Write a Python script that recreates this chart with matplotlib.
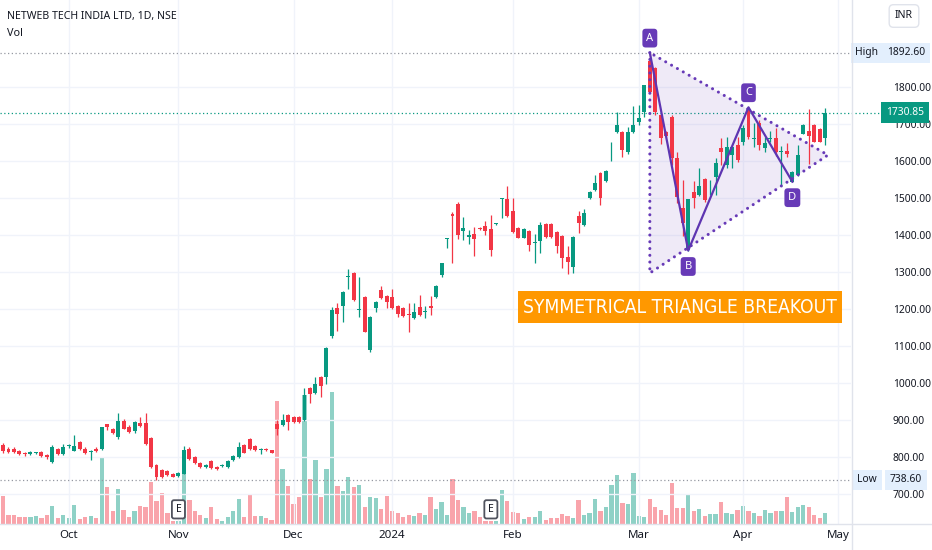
import matplotlib
matplotlib.use('Agg')
import matplotlib.pyplot as plt
import matplotlib.transforms as mtransforms
from matplotlib import font_manager as fm
from matplotlib.lines import Line2D
from matplotlib.patches import Rectangle

plt.rcParams['font.family'] = ['Noto Sans', 'DejaVu Sans']

# daily candles (mid sep 2023 -> 22 apr 2024)
opens = [832, 823, 822, 816, 812, 809, 810, 814, 805, 787,
         821, 808, 829, 817, 840, 823, 814, 823, 822, 888,
         875, 853, 898, 882, 869, 891, 891, 852, 778, 765,
         763, 754, 749, 755, 822, 799, 783, 774, 790, 774,
         776, 772, 793, 800, 833, 848, 830, 820, 823, 818,
         890, 886, 913, 907, 909, 900, 986, 974, 1015, 1017,
         1127, 1204, 1208, 1287, 1298, 1198, 1232, 1089, 1202, 1250,
         1235, 1232, 1208, 1204, 1185, 1175, 1206, 1191, 1208, 1233,
         1292, 1389, 1458, 1484, 1412, 1395, 1404, 1420, 1424, 1415,
         1429, 1498, 1497, 1465, 1420, 1393, 1411, 1379, 1384, 1430,
         1430, 1409, 1397, 1340, 1313, 1452, 1427, 1500, 1521, 1567,
         1545, 1650, 1679, 1679, 1624, 1679, 1706, 1732, 1870, 1850,
         1724, 1677, 1720, 1607, 1472, 1360, 1517, 1508, 1551, 1515,
         1558, 1634, 1589, 1616, 1643, 1652, 1742, 1660, 1702, 1634,
         1660, 1661, 1624, 1627, 1544, 1562, 1674, 1681, 1697, 1686,
         1661]
highs = [839, 827, 826, 818, 814, 815, 814, 816, 807, 832,
         824, 834, 836, 859, 842, 826, 818, 826, 882, 890,
         878, 918, 902, 886, 897, 909, 918, 855, 781, 768,
         766, 757, 760, 830, 826, 802, 786, 782, 792, 776,
         780, 792, 805, 840, 836, 851, 832, 825, 825, 820,
         900, 916, 916, 910, 912, 986, 988, 1017, 1018, 1097,
         1206, 1217, 1248, 1307, 1300, 1287, 1234, 1181, 1222, 1262,
         1237, 1253, 1210, 1206, 1215, 1215, 1238, 1208, 1235, 1264,
         1325, 1392, 1462, 1488, 1449, 1413, 1422, 1422, 1438, 1454,
         1432, 1501, 1533, 1500, 1422, 1418, 1413, 1404, 1436, 1432,
         1432, 1411, 1400, 1369, 1397, 1466, 1470, 1518, 1562, 1570,
         1575, 1652, 1731, 1682, 1691, 1749, 1750, 1806, 1892.6, 1853,
         1727, 1680, 1723, 1625, 1548, 1498, 1546, 1582, 1554, 1548,
         1609, 1661, 1665, 1640, 1665, 1697, 1745, 1702, 1711, 1665,
         1681, 1688, 1641, 1648, 1573, 1643, 1699, 1740, 1700, 1688,
         1742]
lows = [810, 810, 812, 805, 803, 806, 807, 801, 796, 785,
        806, 806, 824, 815, 818, 808, 792, 814, 820, 874,
        862, 850, 875, 864, 866, 882, 832, 770, 738.6, 744,
        749, 745, 747, 753, 792, 782, 770, 770, 768, 765,
        774, 770, 790, 797, 810, 820, 816, 808, 817, 810,
        860, 884, 874, 893, 893, 898, 947, 971, 963, 997,
        1122, 1141, 1166, 1253, 1222, 1179, 1137, 1085, 1193, 1227,
        1202, 1200, 1179, 1178, 1139, 1173, 1182, 1175, 1184, 1230,
        1287, 1364, 1325, 1389, 1386, 1376, 1343, 1413, 1400, 1343,
        1428, 1445, 1448, 1405, 1391, 1391, 1358, 1325, 1352, 1391,
        1392, 1352, 1310, 1295, 1298, 1406, 1424, 1497, 1518, 1481,
        1543, 1600, 1676, 1612, 1620, 1676, 1697, 1720, 1785, 1724,
        1645, 1665, 1589, 1486, 1396, 1358, 1472, 1505, 1488, 1508,
        1508, 1589, 1580, 1580, 1598, 1643, 1660, 1639, 1630, 1625,
        1652, 1614, 1533, 1611, 1544, 1560, 1672, 1592, 1650, 1650,
        1643]
closes = [817, 814, 814, 808, 807, 813, 812, 803, 799, 828,
          808, 826, 831, 831, 821, 810, 816, 816, 880, 880,
          864, 898, 877, 867, 895, 885, 834, 774, 747, 747,
          751, 747, 758, 819, 795, 785, 772, 778, 770, 768,
          778, 789, 802, 828, 812, 823, 819, 823, 819, 812,
          877, 900, 895, 895, 895, 968, 970, 997, 993, 1094,
          1197, 1186, 1245, 1289, 1224, 1199, 1139, 1179, 1220, 1229,
          1220, 1202, 1186, 1181, 1184, 1193, 1184, 1192, 1202, 1262,
          1323, 1391, 1452, 1400, 1420, 1400, 1389, 1415, 1412, 1359,
          1430, 1500, 1450, 1409, 1393, 1415, 1373, 1382, 1427, 1394,
          1394, 1370, 1337, 1326, 1394, 1432, 1459, 1515, 1540, 1499,
          1573, 1652, 1697, 1630, 1679, 1697, 1715, 1804, 1787, 1732,
          1661, 1668, 1607, 1504, 1432, 1496, 1499, 1533, 1495, 1517,
          1594, 1625, 1639, 1638, 1603, 1690, 1665, 1662, 1643, 1648,
          1662, 1625, 1626, 1618, 1571, 1616, 1697, 1668, 1652, 1652,
          1730.85]
# volume (relative units, as bar heights on the chart)
volumes = [28, 9, 9, 7, 7, 7, 8, 6, 9, 18,
           6, 9, 6, 19, 5, 7, 8, 6, 66, 37,
           13, 35, 14, 7, 13, 18, 17, 42, 23, 31,
           11, 3, 3, 72, 24, 13, 9, 6, 17, 5,
           3, 7, 13, 25, 7, 30, 8, 8, 6, 4,
           123, 55, 38, 20, 27, 129, 45, 64, 27, 55,
           132, 38, 33, 47, 37, 39, 17, 27, 26, 15,
           28, 13, 11, 7, 9, 8, 11, 9, 27, 15,
           22, 9, 45, 24, 17, 11, 13, 7, 3, 3,
           3, 34, 23, 12, 11, 5, 7, 7, 13, 4,
           6, 6, 10, 8, 6, 24, 9, 11, 25, 13,
           17, 39, 49, 21, 20, 51, 8, 7, 25, 17,
           14, 9, 41, 16, 16, 29, 13, 15, 8, 10,
           10, 22, 11, 10, 14, 18, 13, 11, 8, 14,
           11, 13, 13, 27, 12, 17, 19, 17, 9, 6,
           11]

month_labels = ['Oct', 'Nov', 'Dec', '2024', 'Feb', 'Mar', 'Apr', 'May']
month_pos = [12, 32, 53, 71, 93, 116, 135, 152.4]
price_ticks = [700, 800, 900, 1000, 1100, 1200, 1300, 1400, 1500, 1600, 1700, 1800]

# pattern drawing (candle index)
abcd_idx = [118, 125, 136, 144]
abcd_lbl = ['A', 'B', 'C', 'D']
tri_idx = [118, 118, 150.5]
tri_price = [1892.6, 1297, 1616]
earnings_idx = [32, 89]
banner = 'SYMMETRICAL TRIANGLE BREAKOUT'

up = '#089981'
down = '#f23645'
purple = '#673ab7'

W, H = 932, 550
fig = plt.figure(figsize=(W / 100, H / 100), dpi=100)
rect = [0, (H - 524) / H, 851 / W, 524 / H]
axv = fig.add_axes(rect)
ax = fig.add_axes(rect, sharex=axv)
ax.set_facecolor('none')

n = len(closes)
xs = list(range(n))
cols = [up if c >= o else down for o, c in zip(opens, closes)]

# volume behind
axv.bar(xs, volumes, width=0.78, color=cols, alpha=0.45, linewidth=0)
axv.set_ylim(0, 524)
axv.axis('off')

# candles
ax.vlines(xs, lows, highs, colors=cols, linewidth=0.9, zorder=3)
bodies = [max(abs(c - o), 2.5) for o, c in zip(opens, closes)]
ax.bar(xs, bodies, bottom=[min(o, c) for o, c in zip(opens, closes)],
       width=0.72, color=cols, linewidth=0, zorder=4)

ax.set_xlim(-0.55, 154.7)
ax.set_ylim(619, 2035)
ax.set_yticks(price_ticks, ['%.2f' % p for p in price_ticks])
ax.set_xticks(month_pos, month_labels)
ax.get_xticklabels()[3].set_fontweight('bold')
ax.grid(True, color='#f0f3fa', linewidth=1)
ax.set_axisbelow(True)
for s in ax.spines.values():
    s.set_visible(False)
ax.tick_params(axis='y', left=False, right=False, labelleft=False, labelright=True,
               pad=26.5, labelsize=7.4, labelcolor='#131722')
ax.tick_params(axis='x', length=0, pad=4.5, labelsize=8.3, labelcolor='#131722')

# frame lines
fig.add_artist(Line2D([0, 1], [(H - 524) / H] * 2, color='#e0e3eb', lw=1))
fig.add_artist(Line2D([852 / W] * 2, [0, 1], color='#e0e3eb', lw=1))

# high / low / last lines
hi = max(highs)
lo = min(lows)
last = closes[-1]
ax.axhline(hi, color='#9598a1', lw=0.9, ls=(0, (1, 2)))
ax.axhline(lo, color='#9598a1', lw=0.9, ls=(0, (1, 2)))
bl = mtransforms.blended_transform_factory(ax.transAxes, ax.transData)
ax.plot([0, 880 / 851], [last, last], transform=bl, color=up, lw=0.9,
        ls=(0, (1, 2)), clip_on=False)

ft = mtransforms.blended_transform_factory(fig.transFigure, ax.transData)
boxkw = dict(boxstyle='square,pad=0.45', fc='#e3effd', ec='none')
ax.text(867 / W, hi, 'High', transform=ft, ha='center', va='center', fontsize=7.4,
        color='#131722', bbox=boxkw, clip_on=False)
ax.text(906 / W, hi, '%.2f' % hi, transform=ft, ha='center', va='center', fontsize=7.4,
        color='#131722', bbox=boxkw, clip_on=False)
ax.text(867 / W, lo, 'Low', transform=ft, ha='center', va='center', fontsize=7.4,
        color='#131722', bbox=boxkw, clip_on=False)
ax.text(906 / W, lo, '%.2f' % lo, transform=ft, ha='center', va='center', fontsize=7.4,
        color='#131722', bbox=boxkw, clip_on=False)
ax.text(905 / W, last, '%.2f' % last, transform=ft, ha='center', va='center', fontsize=7.4,
        color='white', clip_on=False, zorder=10,
        bbox=dict(boxstyle='square,pad=0.5', fc=up, ec='none'))

fig.text(904 / W, 1 - 16 / H, 'INR', ha='center', va='center', fontsize=7.6, color='#131722',
         bbox=dict(boxstyle='round,pad=0.55,rounding_size=0.4', fc='white', ec='#e0e3eb'))

fig.text(7 / W, 1 - 17 / H, 'NETWEB TECH INDIA LTD, 1D, NSE', ha='left', va='center',
         fontsize=7.6, fontweight='bold', color='#131722')
fig.text(7 / W, 1 - 33 / H, 'Vol', ha='left', va='center', fontsize=7.8, color='#131722')

# triangle + ABCD
ax.fill(tri_idx, tri_price, color=purple, alpha=0.1, linewidth=0, zorder=2)
ax.plot(tri_idx + tri_idx[:1], tri_price + tri_price[:1], color=purple, lw=2.2,
        ls=(0, (0.01, 2.2)), dash_capstyle='round', zorder=5)
abcd_price = [highs[abcd_idx[0]], lows[abcd_idx[1]], highs[abcd_idx[2]], lows[abcd_idx[3]]]
ax.plot(abcd_idx, abcd_price, color='#5e35b1', lw=1.6, zorder=5)
for k, (i, p, lb) in enumerate(zip(abcd_idx, abcd_price, abcd_lbl)):
    dy = 10.5 if k % 2 == 0 else -11.5
    ax.annotate(lb, xy=(i, p), xytext=(0, dy), textcoords='offset points', ha='center',
                va='center', color='white', fontsize=8, zorder=6,
                bbox=dict(boxstyle='round,pad=0.35,rounding_size=0.3', fc=purple, ec='none'))

# banner: pick a narrow face if one is installed, fit text to the box width
narrow = None
for f in fm.fontManager.ttflist:
    nm = f.name.lower()
    if ('narrow' in nm or 'condensed' in nm or f.stretch in ('condensed', 'semi-condensed')) \
            and f.style == 'normal' and f.weight in (400, 'normal', 'regular', 500, 'medium'):
        narrow = f.fname
        break
fp = fm.FontProperties(fname=narrow) if narrow else fm.FontProperties(family='Roboto')
ax.add_patch(Rectangle((518 / 851, (524 - 323) / 524), 324 / 851, 32 / 524,
                       transform=ax.transAxes, fc='#ff9800', ec='none', zorder=7))
bt = ax.text(680 / 851, (524 - 307.5) / 524, banner, transform=ax.transAxes,
             ha='center', va='center', color='white', fontproperties=fp, zorder=8)
bt.set_fontsize(16)
fig.canvas.draw()
bw = bt.get_window_extent().width
bt.set_fontsize(min(17, 16 * 314 / bw))

# earnings markers
et = mtransforms.blended_transform_factory(ax.transData, ax.transAxes)
for i in earnings_idx:
    ax.text(i, 0.028, 'E', transform=et, ha='center', va='center', fontsize=7.5,
            fontweight='bold', color='#131722', zorder=8,
            bbox=dict(boxstyle='round,pad=0.35,rounding_size=0.2', fc='white',
                      ec='#50535e', lw=1.3))

fig.savefig('out.png', dpi=100)
